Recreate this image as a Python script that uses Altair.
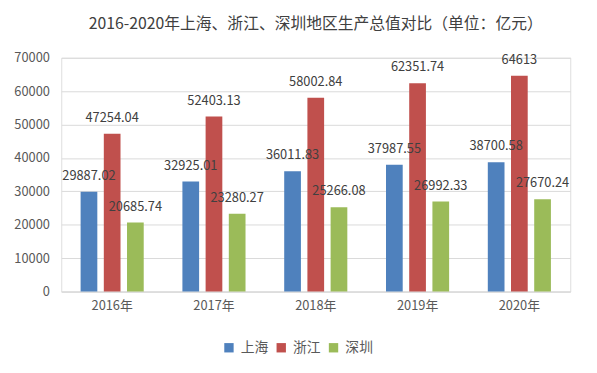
import altair as alt
import pandas as pd

years = ["2016年", "2017年", "2018年", "2019年", "2020年"]
regions = ["上海", "浙江", "深圳"]
shanghai = [29887.02, 32925.01, 36011.83, 37987.55, 38700.58]
zhejiang = [47254.04, 52403.13, 58002.84, 62351.74, 64613]
shenzhen = [20685.74, 23280.27, 25266.08, 26992.33, 27670.24]
colors = ["#4F81BD", "#C0504D", "#9BBB59"]

rows = []
for i, y in enumerate(years):
    for r, vals in zip(regions, [shanghai, zhejiang, shenzhen]):
        v = vals[i]
        rows.append({"year": y, "region": r, "value": v, "label": f"{v:g}" if v == int(v) else f"{v:.2f}"})
df = pd.DataFrame(rows)

FONT = "Noto Sans CJK SC"

x = alt.X("year:N", sort=years, title=None,
          scale=alt.Scale(paddingInner=0.38, paddingOuter=0.19),
          axis=alt.Axis(labelAngle=0, ticks=False, domainColor="#d9d9d9",
                        labelColor="#595959", labelFontSize=13, labelPadding=8, labelFont=FONT))
xo = alt.XOffset("region:N", sort=regions, scale=alt.Scale(paddingInner=0.28))
y = alt.Y("value:Q", title=None,
          scale=alt.Scale(domain=[0, 70000], nice=False),
          axis=alt.Axis(values=list(range(0, 70001, 10000)), ticks=False, domain=False,
                        format="d", labelOverlap=False,
                        gridColor="#d9d9d9", labelColor="#595959", labelFontSize=13,
                        labelPadding=12, labelFont=FONT))

base = alt.Chart(df)

bars = base.mark_bar().encode(
    x=x, xOffset=xo, y=y,
    color=alt.Color("region:N", sort=regions,
                    scale=alt.Scale(domain=regions, range=colors),
                    legend=alt.Legend(title=None, orient="none", direction="horizontal",
                                      legendX=163, legendY=287, symbolType="square",
                                      symbolSize=90, symbolStrokeWidth=0, labelFontSize=14,
                                      labelColor="#595959", labelFont=FONT, columnPadding=6,
                                      labelOffset=5)),
)

labels = base.mark_text(fontSize=13, color="#404040", dy=-16, font=FONT).encode(
    x=x, xOffset=xo, y=y, text="label:N")

chart = (bars + labels).properties(
    width=516, height=237,
    autosize=alt.AutoSizeParams(type="none"),
    padding={"left": 54, "top": 48, "right": 19, "bottom": 70},
    title=alt.TitleParams("2016-2020年上海、浙江、深圳地区生产总值对比（单位：亿元）",
                          fontSize=16, font=FONT, fontWeight="normal", color="#404040",
                          anchor="middle", offset=20),
).configure_view(stroke=None).configure(background="white")

chart.save("out.html", embed_options={"renderer": "svg", "actions": False})
